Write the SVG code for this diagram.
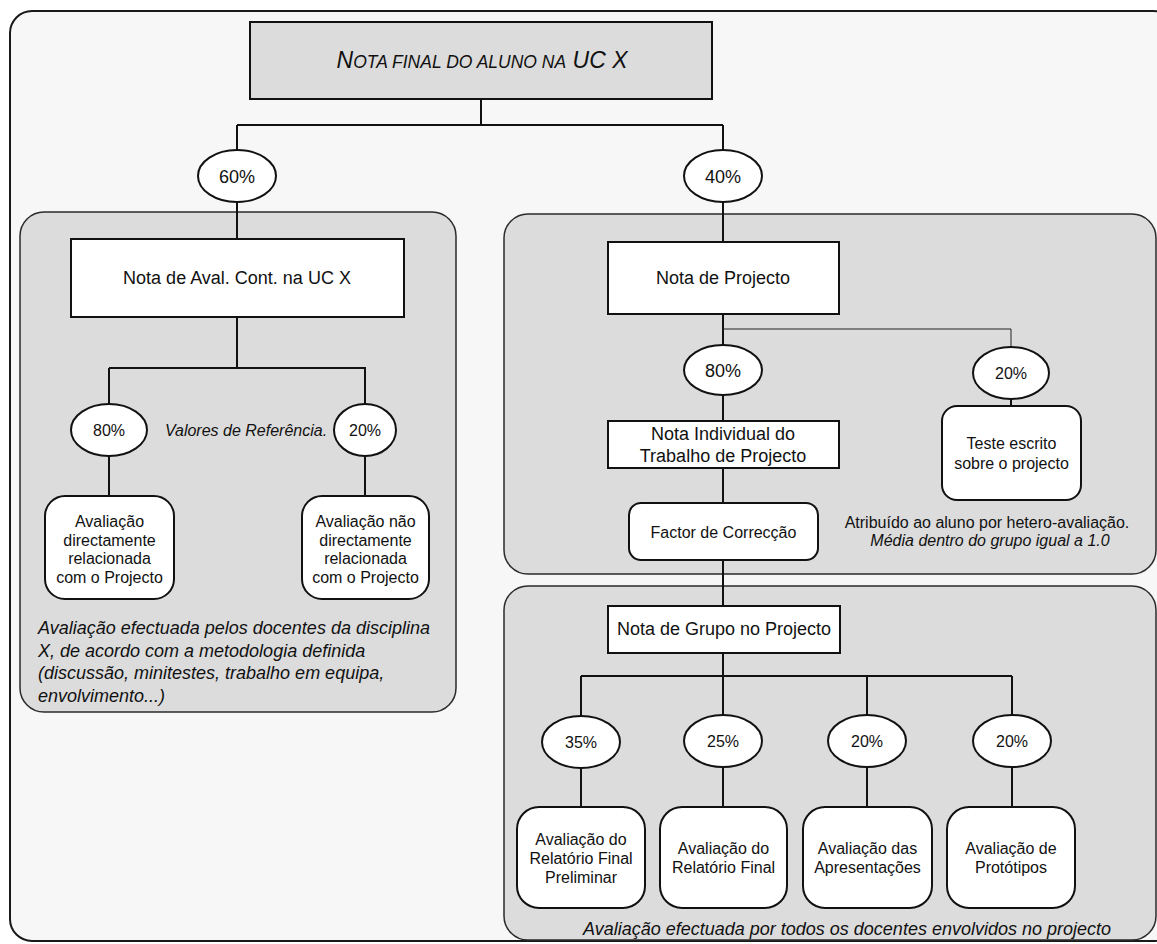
<svg xmlns="http://www.w3.org/2000/svg" width="1157" height="944" viewBox="0 0 1157 944">
  <style>
    .frame { fill: #f7f7f7; stroke: #1a1a1a; stroke-width: 2; }
    .panel { fill: #dcdcdc; stroke: #2a2a2a; stroke-width: 1.5; }
    .box { fill: #ffffff; stroke: #111; stroke-width: 2; }
    .head { fill: #dcdcdc; stroke: #111; stroke-width: 2; }
    .pct { fill: #ffffff; stroke: #111; stroke-width: 2; }
    .wire { fill: none; stroke: #111; stroke-width: 2; }
    .thin { fill: none; stroke: #222; stroke-width: 1; }
    text { font-family: "Liberation Sans", Arial, sans-serif; fill: #111; }
    .c { text-anchor: middle; }
    .f16 { font-size: 16px; }
    .f18 { font-size: 18px; }
    .it { font-style: italic; }
  </style>

  <!-- outer frame and shaded panels -->
  <rect class="frame" x="10" y="11" width="1165" height="930" rx="22"/>
  <rect class="panel" x="20" y="212" width="436" height="500" rx="24"/>
  <rect class="panel" x="504" y="214" width="652" height="360" rx="24"/>
  <rect class="panel" x="504" y="586" width="652" height="354" rx="24"/>

  <!-- connectors -->
  <g id="connectors">
    <path class="wire" d="M481 99 V125 M237 125 H723 M237 125 V150 M723 125 V150"/>
    <path class="wire" d="M237 202 V239 M237 317 V368 M109 368 H366 M109 368 V404 M365 368 V404 M109 456 V496 M365 456 V496"/>
    <path class="wire" d="M723 202 V242 M723 314 V345 M723 395 V421 M723 468 V503 M723 560 V606"/>
    <path class="thin" d="M723 329 H1011 V347"/>
    <path class="wire" d="M1011 399 V406"/>
    <path class="wire" d="M723 653 V676 M581 676 H1012 M581 676 V716 M723 676 V715 M867 676 V715 M1012 676 V715"/>
    <path class="wire" d="M581 768 V807 M723 767 V807 M867 767 V807 M1012 767 V807"/>
  </g>

  <g id="final">
    <rect class="head" x="250" y="22" width="462" height="77"/>
    <text class="c it" x="482" y="68" style="font-size:23px">N<tspan style="font-size:17.5px">OTA FINAL DO ALUNO NA</tspan> UC X</text>
  </g>

  <g id="p60"><ellipse class="pct" cx="237" cy="176" rx="39" ry="26"/><text class="c f18" x="237" y="182.5">60%</text></g>
  <g id="p40"><ellipse class="pct" cx="723" cy="176" rx="39" ry="26"/><text class="c f18" x="723" y="182.5">40%</text></g>

  <!-- continuous assessment branch -->
  <g id="aval-cont">
    <rect class="box" x="71" y="239" width="333" height="78"/>
    <text class="c f18" x="237" y="283.5">Nota de Aval. Cont. na UC X</text>
  </g>
  <g id="l80"><ellipse class="pct" cx="109" cy="430" rx="38" ry="26"/><text class="c f16" x="109" y="436">80%</text></g>
  <g id="l20"><ellipse class="pct" cx="365" cy="430" rx="31" ry="26"/><text class="c f16" x="365" y="436">20%</text></g>
  <text class="c f16 it" x="246" y="436">Valores de Referência.</text>
  <g id="aval-dir">
    <rect class="box" x="45" y="496" width="129" height="103" rx="20"/>
    <text class="c f16" x="109.5"><tspan x="109.5" y="527">Avaliação</tspan><tspan x="109.5" y="545.5">directamente</tspan><tspan x="109.5" y="564">relacionada</tspan><tspan x="109.5" y="582.5">com o Projecto</tspan></text>
  </g>
  <g id="aval-ndir">
    <rect class="box" x="302" y="496" width="127" height="103" rx="20"/>
    <text class="c f16" x="365.5"><tspan x="365.5" y="527">Avaliação não</tspan><tspan x="365.5" y="545.5">directamente</tspan><tspan x="365.5" y="564">relacionada</tspan><tspan x="365.5" y="582.5">com o Projecto</tspan></text>
  </g>
  <text class="f18 it"><tspan x="38" y="634">Avaliação efectuada pelos docentes da disciplina</tspan><tspan x="38" y="656.5">X, de acordo com a metodologia definida</tspan><tspan x="38" y="679">(discussão, minitestes, trabalho em equipa,</tspan><tspan x="38" y="701.5">envolvimento...)</tspan></text>

  <!-- project branch -->
  <g id="projecto">
    <rect class="box" x="608" y="242" width="231" height="72"/>
    <text class="c f18" x="723" y="283.5">Nota de Projecto</text>
  </g>
  <g id="r80"><ellipse class="pct" cx="723" cy="370" rx="39" ry="25"/><text class="c f18" x="723" y="376.5">80%</text></g>
  <g id="r20"><ellipse class="pct" cx="1011" cy="373" rx="38" ry="26"/><text class="c f16" x="1011" y="379">20%</text></g>
  <g id="individual">
    <rect class="box" x="608" y="421" width="231" height="47"/>
    <text class="c f18" x="723"><tspan x="723" y="439.5">Nota Individual do</tspan><tspan x="723" y="461.5">Trabalho de Projecto</tspan></text>
  </g>
  <g id="teste">
    <rect class="box" x="942" y="406" width="139" height="94" rx="15"/>
    <text class="c f16" x="1011.5"><tspan x="1011.5" y="449">Teste escrito</tspan><tspan x="1011.5" y="469">sobre o projecto</tspan></text>
  </g>
  <g id="factor">
    <rect class="box" x="629" y="503" width="189" height="57" rx="12"/>
    <text class="c f16" x="723.5" y="538">Factor de Correcção</text>
  </g>
  <text class="c f16" x="987" y="528">Atribuído ao aluno por hetero-avaliação.</text>
  <text class="c f16 it" x="990" y="545.5">Média dentro do grupo igual a 1.0</text>

  <!-- group grade branch -->
  <g id="grupo">
    <rect class="box" x="608" y="606" width="232" height="47"/>
    <text class="c f18" x="724" y="634.5">Nota de Grupo no Projecto</text>
  </g>
  <g id="g35"><ellipse class="pct" cx="581" cy="742" rx="39" ry="26"/><text class="c f16" x="581" y="748">35%</text></g>
  <g id="g25"><ellipse class="pct" cx="723" cy="741" rx="39" ry="26"/><text class="c f16" x="723" y="747">25%</text></g>
  <g id="g20a"><ellipse class="pct" cx="867" cy="741" rx="39" ry="26"/><text class="c f16" x="867" y="747">20%</text></g>
  <g id="g20b"><ellipse class="pct" cx="1012" cy="741" rx="39" ry="26"/><text class="c f16" x="1012" y="747">20%</text></g>

  <g id="rel-prelim">
    <rect class="box" x="517" y="807" width="128" height="101" rx="22"/>
    <text class="c f16" x="581"><tspan x="581" y="845">Avaliação do</tspan><tspan x="581" y="864">Relatório Final</tspan><tspan x="581" y="883">Preliminar</tspan></text>
  </g>
  <g id="rel-final">
    <rect class="box" x="660" y="807" width="127" height="101" rx="22"/>
    <text class="c f16" x="723.5"><tspan x="723.5" y="854">Avaliação do</tspan><tspan x="723.5" y="873">Relatório Final</tspan></text>
  </g>
  <g id="apresentacoes">
    <rect class="box" x="803" y="807" width="129" height="101" rx="22"/>
    <text class="c f16" x="867.5"><tspan x="867.5" y="854">Avaliação das</tspan><tspan x="867.5" y="873">Apresentações</tspan></text>
  </g>
  <g id="prototipos">
    <rect class="box" x="947" y="807" width="128" height="101" rx="22"/>
    <text class="c f16" x="1011"><tspan x="1011" y="854">Avaliação de</tspan><tspan x="1011" y="873">Protótipos</tspan></text>
  </g>
  <text class="c f18 it" x="847" y="935">Avaliação efectuada por todos os docentes envolvidos no projecto</text>
</svg>
